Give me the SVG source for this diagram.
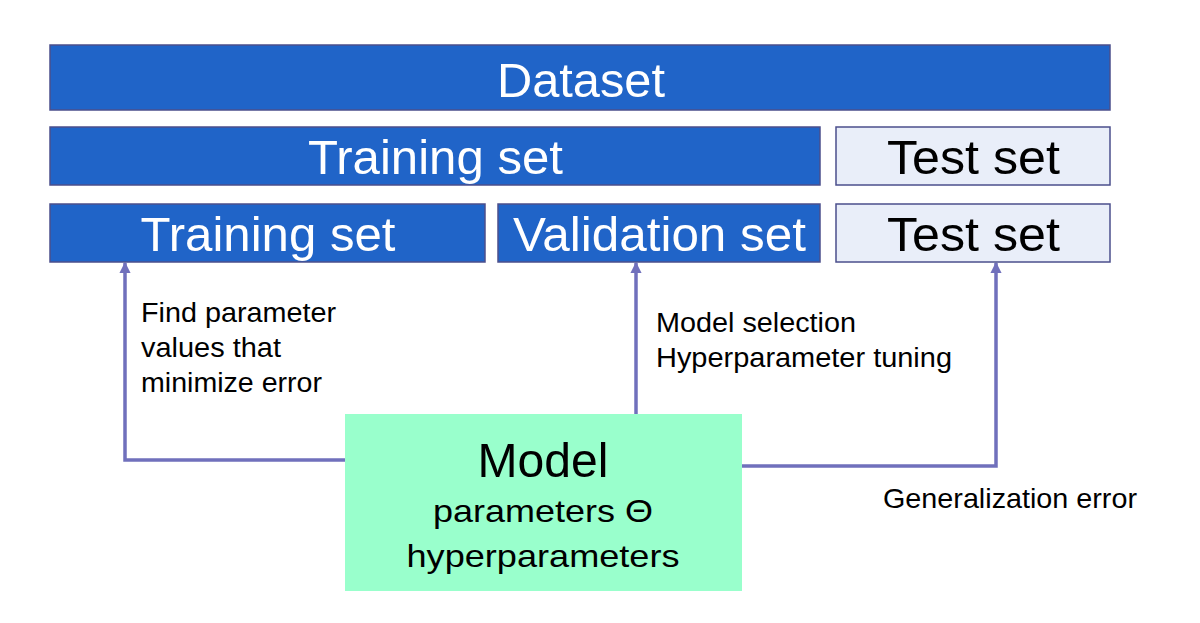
<svg xmlns="http://www.w3.org/2000/svg" width="1200" height="623" viewBox="0 0 1200 623">
<style>
.blue{fill:#2064c8;stroke:#4b4f8c;stroke-width:1.5}
.light{fill:#e9eef9;stroke:#4b4f8c;stroke-width:1.5}
.model{fill:#99ffcc}
.big{font-family:"Liberation Sans",Arial,sans-serif;font-size:49px;text-anchor:middle}
.w{fill:#ffffff}
.k{fill:#000000}
.lbl{font-family:"Liberation Sans",Arial,sans-serif;font-size:27.5px;fill:#000}
.sub{font-family:"Liberation Sans",Arial,sans-serif;font-size:32px;fill:#000;text-anchor:middle}
.conn{fill:none;stroke:#7070bc;stroke-width:3.5;marker-end:url(#arr)}
</style>
<defs>
<marker id="arr" viewBox="0 0 10 10" refX="9" refY="5" markerWidth="3.2" markerHeight="3.2" orient="auto" markerUnits="strokeWidth">
<path d="M0,0 L10,5 L0,10 z" fill="#7070bc"/>
</marker>
</defs>
<rect width="1200" height="623" fill="#ffffff"/>
<g id="connectors">
<polyline class="conn" points="345,460 125,460 125,263"/>
<polyline class="conn" points="636,414 636,263"/>
<polyline class="conn" points="742,466 996,466 996,263"/>
</g>
<g id="dataset">
<rect class="blue" x="50" y="45" width="1060" height="65"/>
<text class="big w" x="581" y="97" textLength="168" lengthAdjust="spacingAndGlyphs">Dataset</text>
</g>
<g id="training-set-top">
<rect class="blue" x="50" y="127" width="770" height="58"/>
<text class="big w" x="435.5" y="174" textLength="255" lengthAdjust="spacingAndGlyphs">Training set</text>
</g>
<g id="test-set-top">
<rect class="light" x="836" y="127" width="274" height="58"/>
<text class="big k" x="973.5" y="174" textLength="173" lengthAdjust="spacingAndGlyphs">Test set</text>
</g>
<g id="training-set">
<rect class="blue" x="50" y="204" width="435" height="58"/>
<text class="big w" x="268" y="251" textLength="255" lengthAdjust="spacingAndGlyphs">Training set</text>
</g>
<g id="validation-set">
<rect class="blue" x="498" y="204" width="322" height="58"/>
<text class="big w" x="659.5" y="251" textLength="293" lengthAdjust="spacingAndGlyphs">Validation set</text>
</g>
<g id="test-set">
<rect class="light" x="836" y="204" width="274" height="58"/>
<text class="big k" x="973.5" y="251" textLength="173" lengthAdjust="spacingAndGlyphs">Test set</text>
</g>
<g id="model">
<rect class="model" x="345" y="414" width="397" height="177"/>
<text class="big k" x="543" y="477" textLength="131" lengthAdjust="spacingAndGlyphs">Model</text>
<text class="sub" x="543" y="522" textLength="220" lengthAdjust="spacingAndGlyphs">parameters Θ</text>
<text class="sub" x="543" y="567" textLength="273" lengthAdjust="spacingAndGlyphs">hyperparameters</text>
</g>
<g id="labels">
<text class="lbl" x="141" y="322" textLength="195" lengthAdjust="spacingAndGlyphs">Find parameter</text>
<text class="lbl" x="141" y="357" textLength="140" lengthAdjust="spacingAndGlyphs">values that</text>
<text class="lbl" x="141" y="392" textLength="181" lengthAdjust="spacingAndGlyphs">minimize error</text>
<text class="lbl" x="656" y="332" textLength="200" lengthAdjust="spacingAndGlyphs">Model selection</text>
<text class="lbl" x="656" y="367" textLength="296" lengthAdjust="spacingAndGlyphs">Hyperparameter tuning</text>
<text class="lbl" x="883" y="508" textLength="254" lengthAdjust="spacingAndGlyphs">Generalization error</text>
</g>
</svg>
